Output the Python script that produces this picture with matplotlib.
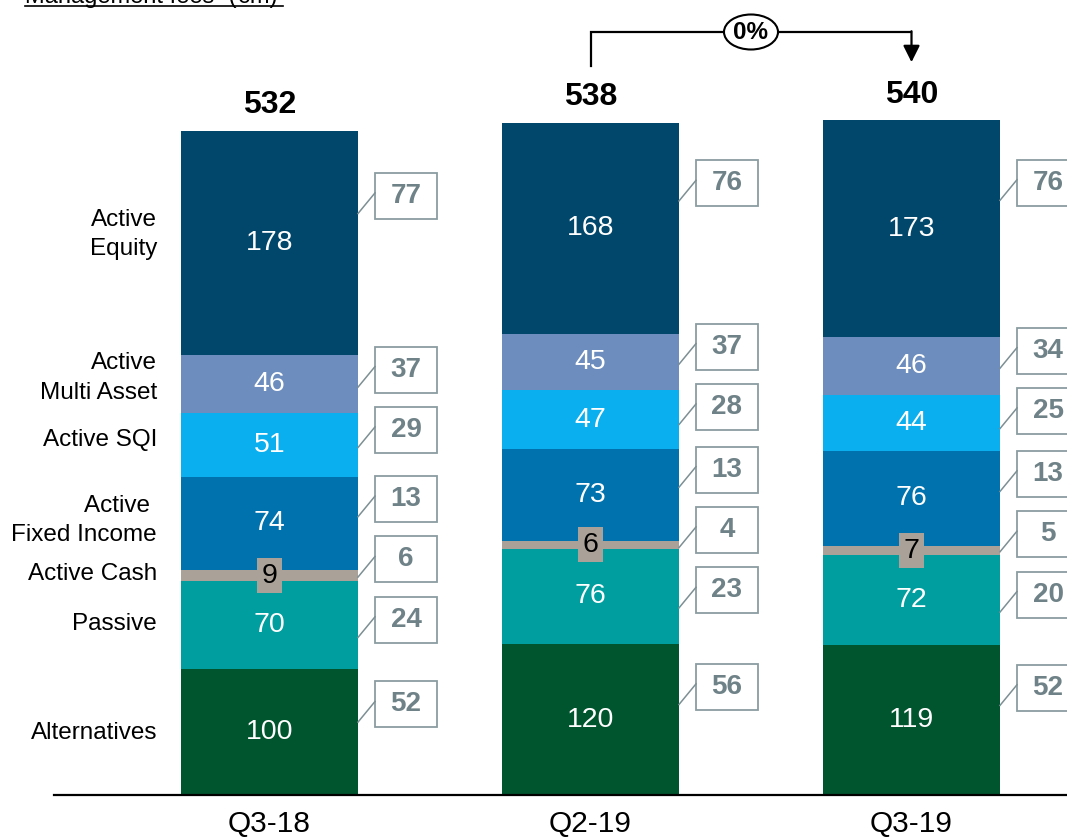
import numpy as np
import matplotlib
matplotlib.use("Agg")
import matplotlib.pyplot as plt
from matplotlib.patches import Rectangle, Ellipse
from matplotlib.lines import Line2D

plt.rcParams['font.family'] = ['Liberation Sans', 'DejaVu Sans']

# datos (de abajo hacia arriba)
periodos = ["Q3-18", "Q2-19", "Q3-19"]
clases = ["Alternatives", "Passive", "Active Cash", "Active \nFixed Income",
          "Active SQI", "Active\nMulti Asset", "Active\nEquity"]
alternatives = [100, 120, 119]
passive = [70, 76, 72]
active_cash = [9, 6, 7]
active_fixed_income = [74, 73, 76]
active_sqi = [51, 47, 44]
active_multi_asset = [46, 45, 46]
active_equity = [178, 168, 173]
totales = [532, 538, 540]

# valores de las cajas al costado de cada segmento
caja_alternatives = [52, 56, 52]
caja_passive = [24, 23, 20]
caja_cash = [6, 4, 5]
caja_fixed_income = [13, 13, 13]
caja_sqi = [29, 28, 25]
caja_multi_asset = [37, 37, 34]
caja_equity = [77, 76, 76]

colores = ["#00552f", "#009e9e", "#aaa198", "#0072ad", "#0aaff0", "#6c8dbd", "#00476b"]

segmentos = np.array([alternatives, passive, active_cash, active_fixed_income,
                      active_sqi, active_multi_asset, active_equity])
cajas = np.array([caja_alternatives, caja_passive, caja_cash, caja_fixed_income,
                  caja_sqi, caja_multi_asset, caja_equity])

W, H = 1067, 838
fig = plt.figure(figsize=(W / 100, H / 100), dpi=100)
px_x = 321.0          # pixeles por unidad en x
px_y = 1.257          # pixeles por unidad en y
base_px = 795
ax = fig.add_axes([54 / W, (H - base_px) / H, (W - 54) / W, base_px / H])
ax.set_xlim((54 - 269.5) / px_x, (W - 269.5) / px_x)
ax.set_ylim(0, base_px / px_y)
for s in ["top", "right", "left"]:
    ax.spines[s].set_visible(False)
ax.spines["bottom"].set_linewidth(1.6)
ax.set_yticks([])
x = np.arange(len(periodos))
ax.set_xticks(x, periodos, fontsize=21.5)
ax.tick_params(axis="x", length=0, pad=11)

ancho = 177 / px_x
bottoms = np.vstack([np.zeros(3), np.cumsum(segmentos, axis=0)[:-1]])
for k in range(len(segmentos)):
    ax.bar(x, segmentos[k], ancho, bottom=bottoms[k], color=colores[k], linewidth=0)
    for i in range(3):
        yc = bottoms[k][i] + segmentos[k][i] / 2
        if k == 2:
            ax.text(x[i], yc, str(segmentos[k][i]), ha="center", va="center", fontsize=20.5,
                    color="black",
                    bbox=dict(boxstyle="square,pad=0.16", fc=colores[k], ec="none"))
        else:
            ax.text(x[i], yc, str(segmentos[k][i]), ha="center", va="center",
                    fontsize=20.5, color="white")


def acomodar(deseado, gap):
    # agrupa etiquetas que se pisan y las centra en su promedio
    grupos = [[i] for i in range(len(deseado))]

    def posiciones(g):
        c = np.mean([deseado[j] - (j - g[0]) * gap for j in g])
        return [c + (j - g[0]) * gap for j in g]

    cambio = True
    while cambio:
        cambio = False
        for a in range(len(grupos) - 1):
            if posiciones(grupos[a + 1])[0] - posiciones(grupos[a])[-1] < gap:
                grupos[a] = grupos[a] + grupos[a + 1]
                del grupos[a + 1]
                cambio = True
                break
    out = []
    for g in grupos:
        out += posiciones(g)
    return out


caja_w = 62 / px_x
caja_h = 46 / px_y
sep = 17 / px_x
for i in range(3):
    tops = bottoms[:, i] + segmentos[:, i]
    deseado = tops - 0.3 * segmentos[:, i] + 2
    centros = acomodar(list(deseado), 48)
    xl = x[i] + ancho / 2 + sep
    for k in range(len(segmentos)):
        yc = centros[k]
        ax.add_patch(Rectangle((xl, yc - caja_h / 2), caja_w, caja_h, fc="white",
                               ec="#8b9ca0", lw=1.3, clip_on=False))
        ax.text(xl + caja_w / 2, yc, str(cajas[k][i]), ha="center", va="center",
                fontsize=20, fontweight="bold", color="#6f8287", clip_on=False)
        ax.plot([x[i] + ancho / 2, xl], [yc - 14, yc + 2.4], color="#7d8f94", lw=1.1,
                clip_on=False)

# totales
for i in range(3):
    ax.text(x[i], totales[i] + 17, str(totales[i]), ha="center", va="center",
            fontsize=23, fontweight="bold")

# etiquetas de clase a la izquierda (a la altura de la primera barra)
xlab = (157 - 269.5) / px_x
for k in range(len(clases)):
    yc = (bottoms[k][0] + segmentos[k][0] / 2) * 1.02 - 2
    ax.text(xlab, yc, clases[k], ha="right", va="center", fontsize=17.5,
            multialignment="right", linespacing=1.45)

# flecha de variacion Q2-19 -> Q3-19
y_top = max(totales) + 67
ax.plot([x[1], x[1], x[2]], [totales[1] + 42, y_top, y_top], color="black", lw=1.6,
        clip_on=False, solid_joinstyle="miter")
ax.annotate("", xy=(x[2], totales[2] + 43), xytext=(x[2], y_top + 0.6),
            arrowprops=dict(arrowstyle="-|>,head_length=0.5,head_width=0.25",
                            mutation_scale=20, lw=1.6, color="black",
                            shrinkA=0, shrinkB=0), annotation_clip=False)
xm = (x[1] + x[2]) / 2
ax.add_patch(Ellipse((xm, y_top), 54 / px_x, 35 / px_y, fc="white", ec="black",
                     lw=1.5, clip_on=False, zorder=5))
cambio = (totales[2] / totales[1] - 1) * 100
ax.text(xm, y_top, f"{cambio:.0f}%", ha="center", va="center", fontsize=17.5,
        fontweight="bold", zorder=6, clip_on=False)

# titulo cortado arriba, subrayado
fig.text(25 / W, 1 - 3.5 / H, "Management fees¹ (€m)", ha="left", va="baseline",
         fontsize=17)
fig.add_artist(Line2D([25 / W, 283 / W], [1 - 6 / H, 1 - 6 / H], color="black",
                      lw=1.2, transform=fig.transFigure))

fig.savefig("out.png", dpi=100)
